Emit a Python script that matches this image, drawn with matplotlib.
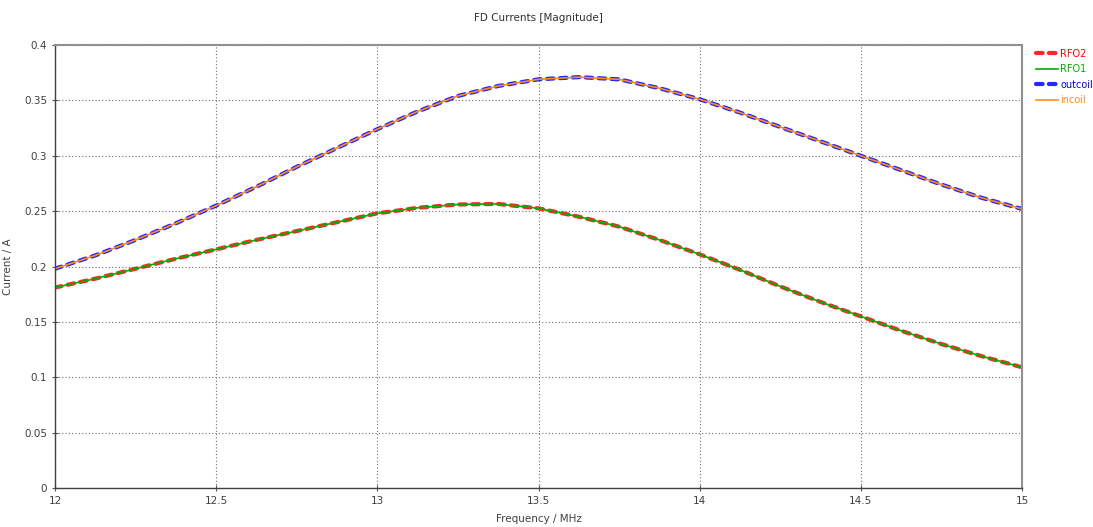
import matplotlib
matplotlib.use("Agg")
import matplotlib.pyplot as plt

# frequency sweep (MHz) and current magnitudes (A)
freq = [12.0, 12.125, 12.25, 12.375, 12.5, 12.625, 12.75, 12.875, 13.0,
        13.125, 13.25, 13.375, 13.5, 13.625, 13.75, 13.875, 14.0,
        14.125, 14.25, 14.375, 14.5, 14.625, 14.75, 14.875, 15.0]

outcoil = [0.198, 0.210, 0.224, 0.239, 0.255, 0.272, 0.290, 0.307, 0.324,
           0.340, 0.354, 0.363, 0.369, 0.371, 0.369, 0.361, 0.351,
           0.339, 0.326, 0.313, 0.300, 0.287, 0.274, 0.262, 0.252]
incoil = list(outcoil)

rfo2 = [0.181, 0.189, 0.198, 0.207, 0.2155, 0.224, 0.232, 0.240, 0.248,
        0.253, 0.256, 0.2565, 0.2525, 0.245, 0.236, 0.224, 0.211,
        0.197, 0.182, 0.168, 0.155, 0.142, 0.130, 0.119, 0.109]
rfo1 = list(rfo2)

xticks = [12, 12.5, 13, 13.5, 14, 14.5, 15]
yticks = [0, 0.05, 0.1, 0.15, 0.2, 0.25, 0.3, 0.35, 0.4]

fig = plt.figure(figsize=(10.93, 5.27), dpi=100)
ax = fig.add_axes([55 / 1093, 1 - 488 / 527, 967 / 1093, 443 / 527])

# thick dashed traces underneath, thin solid traces on top
dash = (1.6, 1.5)
ax.plot(freq, rfo2, color="#ff0000", lw=3.0, dashes=dash, alpha=0.85,
        dash_capstyle="round", label="RFO2")
ax.plot(freq, rfo1, color="#00b000", lw=1.2, label="RFO1")
ax.plot(freq, outcoil, color="#0000ff", lw=3.0, dashes=dash, alpha=0.85,
        dash_capstyle="round", label="outcoil")
ax.plot(freq, incoil, color="#ff8c1a", lw=1.2, label="incoil")

ax.set_xlim(12, 15)
ax.set_ylim(0, 0.4)
ax.set_xticks(xticks)
ax.set_xticklabels(["12", "12.5", "13", "13.5", "14", "14.5", "15"])
ax.set_yticks(yticks)
ax.set_yticklabels(["0", "0.05", "0.1", "0.15", "0.2", "0.25", "0.3", "0.35", "0.4"])
ax.grid(True, color="#707070", linestyle=(0, (1, 2)), linewidth=0.8)
ax.tick_params(direction="inout", length=5, width=0.8, color="#555555",
               labelsize=7.5, labelcolor="#404040", pad=3)

for side in ["left", "bottom"]:
    ax.spines[side].set_color("#404040")
    ax.spines[side].set_linewidth(1.0)
for side in ["top", "right"]:
    ax.spines[side].set_color("#909090")
    ax.spines[side].set_linewidth(1.5)

ax.set_title("FD Currents [Magnitude]", fontsize=7.5, color="#303030", pad=17)
ax.set_xlabel("Frequency / MHz", fontsize=7.5, color="#404040", labelpad=6)
ax.set_ylabel("Current / A", fontsize=7.5, color="#404040", labelpad=8)

leg = fig.legend(loc="upper left", bbox_to_anchor=(1032 / 1093, 1 - 45 / 527),
                 frameon=False, fontsize=7, handlelength=2.3, handletextpad=0.2,
                 labelspacing=0.55, borderaxespad=0)
for text, line in zip(leg.get_texts(), leg.get_lines()):
    text.set_color(line.get_color())

fig.savefig("out.png", dpi=100)
